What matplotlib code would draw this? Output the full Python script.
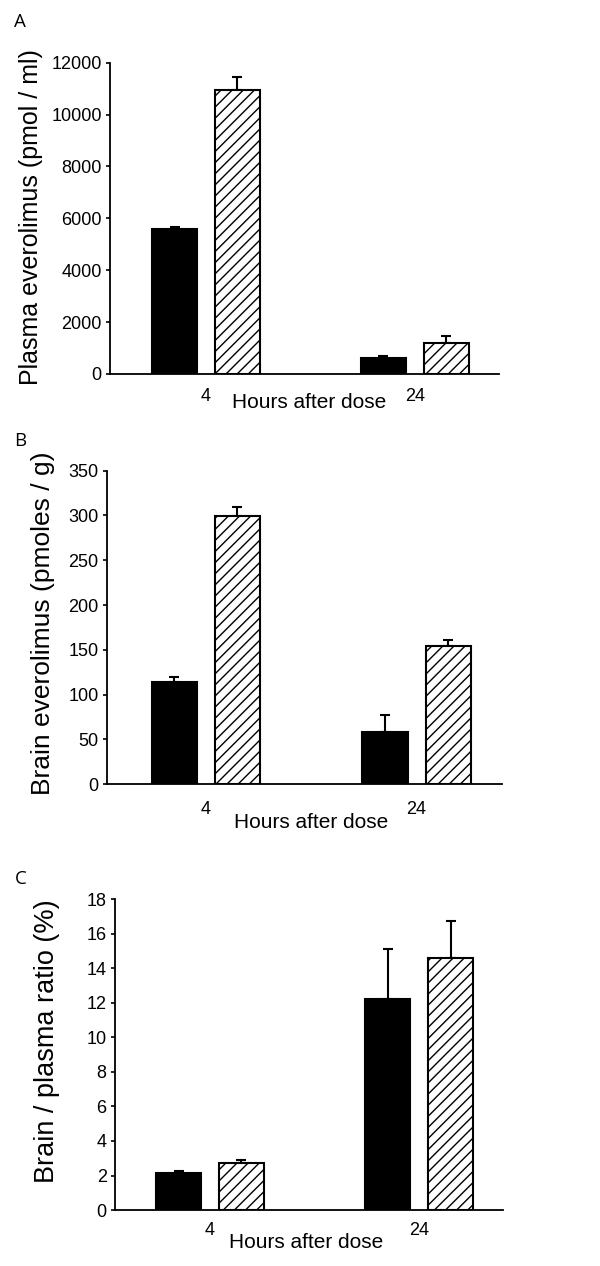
import numpy as np
import matplotlib
matplotlib.use('Agg')
import matplotlib.pyplot as plt
from matplotlib import font_manager

# Data (mean, upper error)
hours = ['4', '24']
plasma_black = [5580, 600]
plasma_black_err = [100, 105]
plasma_hatch = [10950, 1180]
plasma_hatch_err = [490, 285]
brain_black = [114.6, 58]
brain_black_err = [4.8, 19.7]
brain_hatch = [299.4, 154.7]
brain_hatch_err = [9.6, 6.3]
ratio_black = [2.12, 12.2]
ratio_black_err = [0.14, 2.92]
ratio_hatch = [2.70, 14.62]
ratio_hatch_err = [0.2, 2.14]

# condensed font for numbers if we have one
names = {f.name for f in font_manager.fontManager.ttflist}
if 'Liberation Sans Narrow' in names:
    num_font, tick_size, xl_size = 'Liberation Sans Narrow', 15, 17
else:
    num_font, tick_size, xl_size = 'Liberation Sans', 13, 15

plt.rcParams['hatch.linewidth'] = 1.0

fig = plt.figure(figsize=(6, 12.66), dpi=100)

panels = [
    # letter, rect, ylim, yticks, ylabel, label size, label pos, xlabel pos, xtick pad, xlim, values
    ('A', [0.1833, 0.7046, 0.648, 0.2459], 12000, np.arange(0, 12001, 2000),
     'Plasma everolimus (pmol / ml)', 18, (-0.204, 0.503), (0.512, -0.061), 10,
     (-0.459, 1.402), (plasma_black, plasma_black_err, plasma_hatch, plasma_hatch_err), 0.9826),
    ('B', [0.1783, 0.3805, 0.658, 0.2477], 350, np.arange(0, 351, 50),
     'Brain everolimus (pmoles / g)', 19, (-0.162, 0.514), (0.517, -0.0915), 12,
     (-0.469, 1.404), (brain_black, brain_black_err, brain_hatch, brain_hatch_err), 0.6517),
    ('C', [0.1917, 0.0442, 0.6466, 0.2455], 18, np.arange(0, 19, 2),
     'Brain / plasma ratio (%)', 19.5, (-0.176, 0.542), (0.492, -0.074), 8.4,
     (-0.454, 1.40), (ratio_black, ratio_black_err, ratio_hatch, ratio_hatch_err), 0.3057),
]

x = np.arange(len(hours))
off, w = 0.15, 0.215

for letter, rect, ymax, yticks, ylabel, lsize, ylpos, xlpos, pad, xlim, vals, ly in panels:
    ax = fig.add_axes(rect)
    blk, blk_err, hat, hat_err = vals
    ax.bar(x - off, blk, w, color='black', edgecolor='black', linewidth=1.5, zorder=3)
    ax.bar(x + off, hat, w, color='white', edgecolor='black', linewidth=1.5,
           hatch='///', zorder=3)
    ax.errorbar(x - off, blk, yerr=[np.zeros(2), blk_err], fmt='none', ecolor='black',
                elinewidth=1.5, capsize=3.5, capthick=1.5, zorder=2)
    ax.errorbar(x + off, hat, yerr=[np.zeros(2), hat_err], fmt='none', ecolor='black',
                elinewidth=1.5, capsize=3.5, capthick=1.5, zorder=2)

    ax.set_xlim(*xlim)
    ax.set_ylim(0, ymax)
    ax.set_yticks(yticks)
    ax.set_xticks(x)
    ax.set_xticklabels(hours)
    for s in ['top', 'right']:
        ax.spines[s].set_visible(False)
    for s in ['left', 'bottom']:
        ax.spines[s].set_linewidth(1.3)
    ax.tick_params(axis='y', direction='out', length=3, width=1.2, pad=3)
    ax.tick_params(axis='x', length=0, pad=pad)
    for t in ax.get_xticklabels() + ax.get_yticklabels():
        t.set_fontfamily(num_font)
        t.set_fontsize(tick_size)

    ax.text(xlpos[0], xlpos[1], 'Hours after dose', transform=ax.transAxes,
            ha='center', va='top', fontsize=xl_size, family=num_font)
    ax.text(ylpos[0], ylpos[1], ylabel, transform=ax.transAxes, rotation=90,
            ha='center', va='center', fontsize=lsize, family='Liberation Sans')
    fig.text(0.034, ly, letter, ha='center', va='center', fontsize=13.5, family='Open Sans')

fig.savefig('out.png', dpi=100)
